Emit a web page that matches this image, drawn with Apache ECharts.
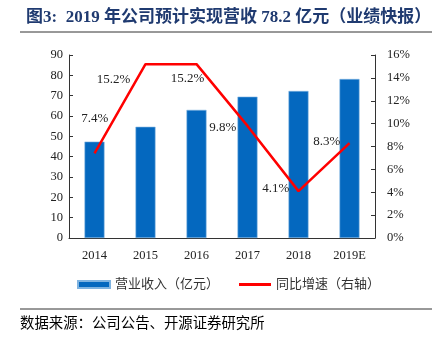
<!DOCTYPE html>
<html><head><meta charset="utf-8">
<script src="https://cdn.jsdelivr.net/npm/echarts@6/dist/echarts.min.js"></script>
<style>html,body{margin:0;padding:0;background:#fff}#c{width:441px;height:347px}</style>
</head><body><div id="c"></div>
<script>
const categories = ['2014','2015','2016','2017','2018','2019E'];
const revenue = [47.4, 54.7, 63.0, 69.5, 72.3, 78.2];
const growth = [7.4, 15.2, 15.2, 9.8, 4.1, 8.3];
const growthLabels = ['7.4%','15.2%','15.2%','9.8%','4.1%','8.3%'];
const labelPositions = ['left','left','bottom','left','left','left'];
const labelOffsets = [[19,-35],[-10,15],[-9,3],[-6,2],[-4,-3],[-4,-1]];
const serif = '"Liberation Serif","Times New Roman","Noto Sans CJK SC",serif';
const chart = echarts.init(document.getElementById('c'));
chart.setOption({
  animation:false,
  title:{text:'图3:  2019 年公司预计实现营收 78.2 亿元（业绩快报）',left:21,top:4,
    textStyle:{fontFamily:serif,fontSize:17,fontWeight:'bold',color:'#1F3A70'}},
  graphic:[
    {type:'line',shape:{x1:20,y1:32,x2:432,y2:32},style:{stroke:'#333',lineWidth:1}},
    {type:'line',shape:{x1:20,y1:309,x2:432,y2:309},style:{stroke:'#333',lineWidth:1}},
    {type:'text',left:20,top:317,style:{text:'数据来源：公司公告、开源证券研究所',font:'14.4px '+serif,fill:'#000'}}
  ],
  legend:{bottom:51,left:72,itemGap:20,itemWidth:32,itemHeight:7,
    textStyle:{fontFamily:serif,fontSize:13,color:'#333'},
    data:[{name:'营业收入（亿元）',icon:'rect'},{name:'同比增速（右轴）',icon:'path://M0,0H10V1H0Z'}]},
  grid:{left:69,right:66,top:55,bottom:109},
  xAxis:{type:'category',data:categories,
    axisLine:{lineStyle:{color:'#333'}},axisTick:{inside:true,length:4,lineStyle:{color:'#333'}},
    axisLabel:{fontFamily:serif,fontSize:12.5,color:'#222',margin:11}},
  yAxis:[
    {type:'value',min:0,max:90,interval:10,splitLine:{show:false},
     axisLine:{show:true,lineStyle:{color:'#333'}},axisTick:{show:true,inside:true,length:4,lineStyle:{color:'#333'}},
     axisLabel:{fontFamily:serif,fontSize:12.5,color:'#222',margin:6}},
    {type:'value',min:0,max:16,interval:2,splitLine:{show:false},position:'right',
     axisLine:{show:true,lineStyle:{color:'#333'}},axisTick:{show:true,inside:true,length:4,lineStyle:{color:'#333'}},
     axisLabel:{fontFamily:serif,fontSize:12.5,color:'#222',margin:12,formatter:'{value}%'}}
  ],
  series:[
    {name:'营业收入（亿元）',type:'bar',data:revenue,barWidth:20,
     itemStyle:{color:'#0468BF',borderColor:'#7FB3E0',borderWidth:0.6}},
    {name:'同比增速（右轴）',type:'line',yAxisIndex:1,symbol:'circle',symbolSize:0.1,showSymbol:true,
     lineStyle:{color:'#FF0000',width:2.5},itemStyle:{color:'#FF0000'},
     data:growth.map((v,i)=>({value:v,label:{show:true,position:labelPositions[i],offset:labelOffsets[i],
       formatter:growthLabels[i],fontFamily:serif,fontSize:13,color:'#222'}}))}
  ]
});
</script></body></html>
